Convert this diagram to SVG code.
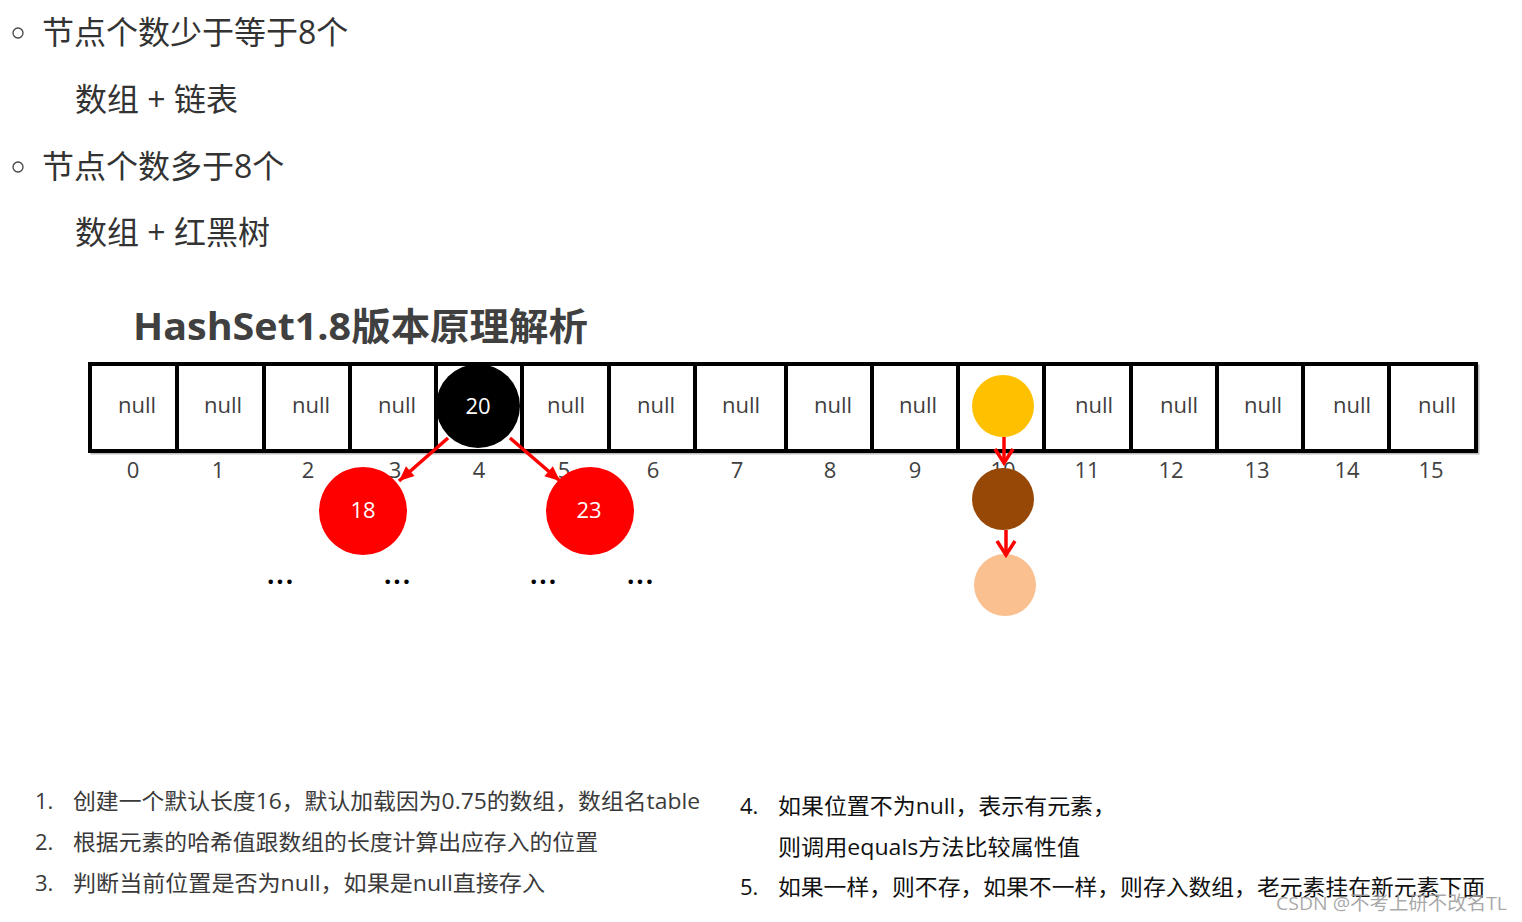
<svg xmlns="http://www.w3.org/2000/svg" width="1522" height="922" viewBox="0 0 1522 922">
<style>
.cjk{font-family:"Open Sans","Noto Sans CJK SC",sans-serif}
.top{font-size:32px;fill:#333}
.title{font-size:38px;font-weight:bold;fill:#404040}
.nul{font-size:22px;fill:#404040;text-anchor:middle}
.idx{font-size:22px;fill:#404040;text-anchor:middle}
.cell{fill:#fff;stroke:#000;stroke-width:4}
.div{stroke:#000;stroke-width:4}
.ntxt{font-size:22px;fill:#fff;text-anchor:middle}
.dots{font-size:26px;font-weight:bold;fill:#000;text-anchor:middle;letter-spacing:2px}
.lst{font-size:22px;fill:#3a3a3a}
.lst2{font-size:22px;fill:#111}
.con{stroke:#f00;stroke-width:3.5;fill:none}
</style>
<defs>
<marker id="tri" markerUnits="userSpaceOnUse" markerWidth="20" markerHeight="16" viewBox="-16 -8 18 16" refX="0" refY="0" orient="auto">
<path d="M-15,-6.5 L0,0 L-15,6.5 Z" fill="#f00"/>
</marker>
<marker id="vee" markerUnits="userSpaceOnUse" markerWidth="22" markerHeight="24" viewBox="-18 -12 20 24" refX="0" refY="0" orient="auto">
<path d="M-14,-9 L0,0 L-14,9" fill="none" stroke="#f00" stroke-width="3.5"/>
</marker>
</defs>
<rect width="1522" height="922" fill="#fff"/>

<g id="bullets">
<circle cx="18" cy="33" r="5" fill="none" stroke="#444" stroke-width="1.3"/>
<text class="cjk top" x="42" y="44">节点个数少于等于8个</text>
<text class="cjk top" x="75" y="111">数组 + 链表</text>
<circle cx="18" cy="167" r="5" fill="none" stroke="#444" stroke-width="1.3"/>
<text class="cjk top" x="42" y="178">节点个数多于8个</text>
<text class="cjk top" x="75" y="244">数组 + 红黑树</text>
</g>

<text id="title" class="cjk title" x="133" y="340" textLength="455" lengthAdjust="spacingAndGlyphs">HashSet1.8版本原理解析</text>

<g id="array">
<rect x="92" y="366" width="1386" height="87" fill="none" stroke="#bbb" stroke-width="3"/>
<rect class="cell" x="90" y="364" width="1386" height="87"/>
<line class="div" x1="177" y1="364" x2="177" y2="451"/>
<line class="div" x1="264" y1="364" x2="264" y2="451"/>
<line class="div" x1="350" y1="364" x2="350" y2="451"/>
<line class="div" x1="436" y1="364" x2="436" y2="451"/>
<line class="div" x1="522" y1="364" x2="522" y2="451"/>
<line class="div" x1="609" y1="364" x2="609" y2="451"/>
<line class="div" x1="695" y1="364" x2="695" y2="451"/>
<line class="div" x1="786" y1="364" x2="786" y2="451"/>
<line class="div" x1="872" y1="364" x2="872" y2="451"/>
<line class="div" x1="958" y1="364" x2="958" y2="451"/>
<line class="div" x1="1044" y1="364" x2="1044" y2="451"/>
<line class="div" x1="1131" y1="364" x2="1131" y2="451"/>
<line class="div" x1="1217" y1="364" x2="1217" y2="451"/>
<line class="div" x1="1303" y1="364" x2="1303" y2="451"/>
<line class="div" x1="1389" y1="364" x2="1389" y2="451"/>
<g class="cjk">
<text class="nul" x="137" y="413">null</text>
<text class="nul" x="223" y="413">null</text>
<text class="nul" x="311" y="413">null</text>
<text class="nul" x="397" y="413">null</text>
<text class="nul" x="566" y="413">null</text>
<text class="nul" x="656" y="413">null</text>
<text class="nul" x="741" y="413">null</text>
<text class="nul" x="833" y="413">null</text>
<text class="nul" x="918" y="413">null</text>
<text class="nul" x="1094" y="413">null</text>
<text class="nul" x="1179" y="413">null</text>
<text class="nul" x="1263" y="413">null</text>
<text class="nul" x="1352" y="413">null</text>
<text class="nul" x="1437" y="413">null</text>
</g>
</g>

<g id="indices" class="cjk">
<text class="idx" x="133" y="478">0</text>
<text class="idx" x="218" y="478">1</text>
<text class="idx" x="308" y="478">2</text>
<text class="idx" x="395" y="478">3</text>
<text class="idx" x="479" y="478">4</text>
<text class="idx" x="564" y="478">5</text>
<text class="idx" x="653" y="478">6</text>
<text class="idx" x="737" y="478">7</text>
<text class="idx" x="830" y="478">8</text>
<text class="idx" x="915" y="478">9</text>
<text class="idx" x="1003" y="478">10</text>
<text class="idx" x="1087" y="478">11</text>
<text class="idx" x="1171" y="478">12</text>
<text class="idx" x="1257" y="478">13</text>
<text class="idx" x="1347" y="478">14</text>
<text class="idx" x="1431" y="478">15</text>
</g>

<g id="node-20">
<circle cx="478" cy="406" r="42" fill="#000"/>
<text class="cjk ntxt" x="478" y="414">20</text>
</g>
<g id="node-18">
<circle cx="363" cy="511" r="44" fill="#f00"/>
<text class="cjk ntxt" x="363" y="518">18</text>
</g>
<g id="node-23">
<circle cx="590" cy="511" r="44" fill="#f00"/>
<text class="cjk ntxt" x="589" y="518">23</text>
</g>
<g id="node-yellow"><circle cx="1003" cy="406" r="31" fill="#FFC000"/></g>
<g id="node-brown"><circle cx="1003" cy="499" r="31" fill="#974806"/></g>
<g id="node-peach"><circle cx="1005" cy="585" r="31" fill="#FAC090"/></g>

<g id="ellipses" class="cjk">
<text class="dots" x="281" y="584">...</text>
<text class="dots" x="398" y="584">...</text>
<text class="dots" x="544" y="584">...</text>
<text class="dots" x="641" y="584">...</text>
</g>

<g id="connectors">
<line class="con" x1="448" y1="438" x2="399" y2="481" marker-end="url(#tri)"/>
<line class="con" x1="510" y1="438" x2="560" y2="481" marker-end="url(#tri)"/>
<line class="con" x1="1004" y1="437" x2="1004" y2="463" marker-end="url(#vee)"/>
<line class="con" x1="1006" y1="530" x2="1006" y2="555" marker-end="url(#vee)"/>
</g>

<g id="steps" class="cjk">
<text class="lst" x="35" y="809">1.</text>
<text class="lst" x="73" y="809" textLength="627" lengthAdjust="spacingAndGlyphs">创建一个默认长度16，默认加载因为0.75的数组，数组名table</text>
<text class="lst" x="35" y="850">2.</text>
<text class="lst" x="73" y="850" textLength="525" lengthAdjust="spacingAndGlyphs">根据元素的哈希值跟数组的长度计算出应存入的位置</text>
<text class="lst" x="35" y="891">3.</text>
<text class="lst" x="73" y="891" textLength="472" lengthAdjust="spacingAndGlyphs">判断当前位置是否为null，如果是null直接存入</text>
<text class="lst2" x="740" y="814">4.</text>
<text class="lst2" x="778" y="814" textLength="338" lengthAdjust="spacingAndGlyphs">如果位置不为null，表示有元素，</text>
<text class="lst2" x="778" y="855" textLength="302" lengthAdjust="spacingAndGlyphs">则调用equals方法比较属性值</text>
<text class="lst2" x="740" y="895">5.</text>
<text class="lst2" x="778" y="895" textLength="707" lengthAdjust="spacingAndGlyphs">如果一样，则不存，如果不一样，则存入数组，老元素挂在新元素下面</text>
</g>

<text id="watermark" class="cjk" x="1276" y="910" font-size="19" fill="#999" fill-opacity="0.85" textLength="231" lengthAdjust="spacingAndGlyphs">CSDN @不考上研不改名TL</text>
</svg>
